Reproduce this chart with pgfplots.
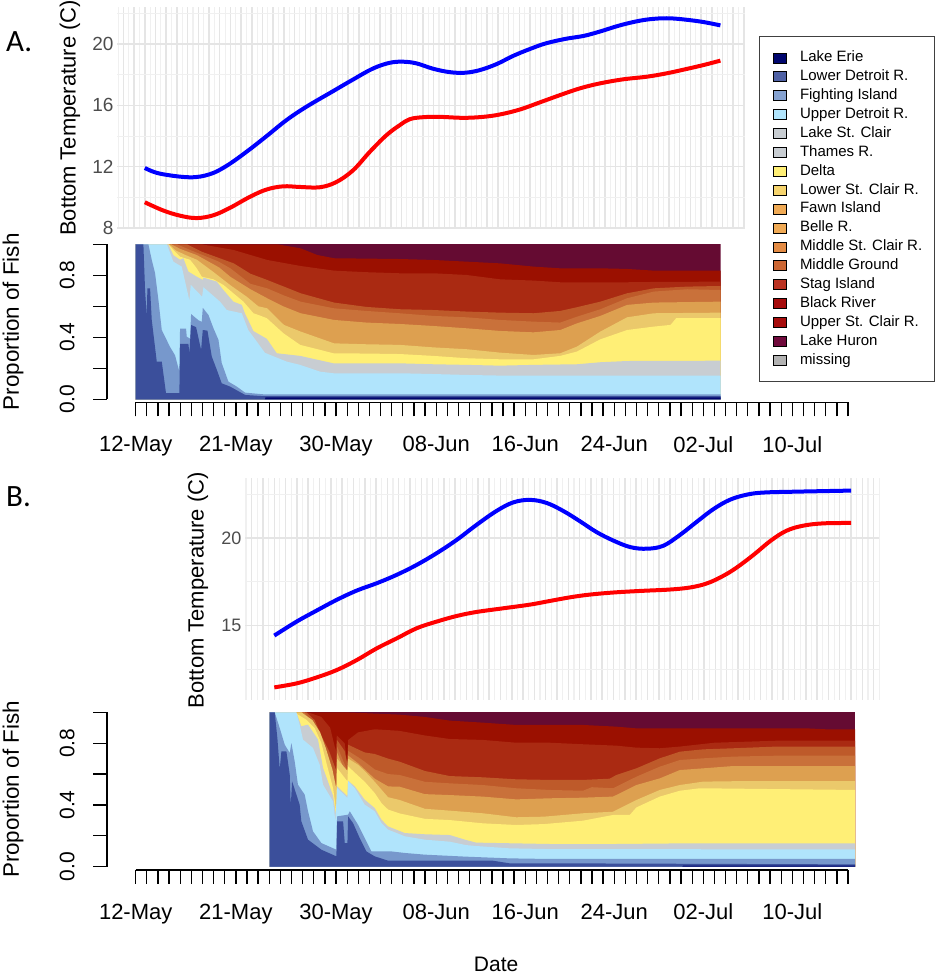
\documentclass[border=0pt]{standalone}
\usepackage{fontspec}
\usepackage{pgfplots}
\pgfplotsset{compat=1.18}
\setmainfont{Liberation Sans}
\newfontfamily\letterfont{Carlito}

% layer colours, bottom to top
\definecolor{cErie}{HTML}{00066E}
\definecolor{cLD}{HTML}{3B4F9B}
\definecolor{cFI}{HTML}{7798CC}
\definecolor{cUD}{HTML}{B0E4FC}
\definecolor{cLS}{HTML}{C8CDD2}
\definecolor{cDelta}{HTML}{FFEF76}
\definecolor{cLSC}{HTML}{EBC96B}
\definecolor{cFawn}{HTML}{DDA050}
\definecolor{cMSC}{HTML}{C9713A}
\definecolor{cMG}{HTML}{BE5A2A}
\definecolor{cStag}{HTML}{AA2A12}
\definecolor{cUSC}{HTML}{9B1000}
\definecolor{cHuron}{HTML}{650B32}
% the legend's swatches are a little brighter
\definecolor{lgLSC}{HTML}{F6D46E}
\definecolor{lgFawn}{HTML}{F0AA55}
\definecolor{lgMSC}{HTML}{E38B44}
\definecolor{lgMG}{HTML}{CC6633}
\definecolor{lgStag}{HTML}{BB3322}
\definecolor{lgUSC}{HTML}{A60C0C}
\definecolor{lgHuron}{HTML}{700A3C}
\definecolor{gridmaj}{gray}{0.90}
\definecolor{gridmin}{gray}{0.94}
\definecolor{ticktxt}{gray}{0.3}

\pgfplotsset{
  temp/.style={
    scale only axis, axis line style={draw=none}, tick style={draw=none},
    xtick={-2,...,56}, minor xtick={-2.5,-1.5,...,55.5},
    xticklabels={},
    grid=both,
    major grid style={gridmaj,line width=1.5pt},
    minor grid style={gridmin,line width=1.1pt},
    ylabel style={font=\fontsize{22}{24}\selectfont,anchor=center},
    /pgf/number format/assume math mode=true,
    yticklabel style={text=ticktxt,font=\fontsize{19}{21}\selectfont},
    clip=false},
  templine/.style={line width=4pt,smooth,tension=0.6,#1,forget plot},
  stack/.style={scale only axis, hide axis, ymin=0, ymax=1},
  yrule/.style={
    scale only axis, width=1pt, height=155pt, xmin=0, xmax=1, ymin=0, ymax=1,
    hide x axis, axis y line*=left, tick align=outside, major tick length=14pt,
    y axis line style={line width=1.3pt}, ytick style={black,line width=1.3pt},
    ytick={0,0.2,...,1}, yticklabels={0.0,,0.4,,0.8,},
    yticklabel style={rotate=90,anchor=south,font=\fontsize{21}{23}\selectfont,yshift=15pt},
    ylabel={Proportion of Fish},
    ylabel style={at={(axis description cs:0,0.5)},anchor=center,yshift=94pt,font=\fontsize{22.4}{24}\selectfont}},
  xrule/.style={
    scale only axis, width=712.3pt, height=1pt, xmin=0, xmax=64, ymin=0, ymax=1,
    hide y axis, axis x line*=bottom, tick align=outside,
    major tick length=14pt, minor tick length=14pt,
    x axis line style={line width=1.3pt}, xtick style={black,line width=1.3pt},
    xtick={0,9,18,27,35,43,51,59}, minor xtick={0,...,64},
    xticklabels={12-May,21-May,30-May,08-Jun,16-Jun,24-Jun,02-Jul,10-Jul},
    xticklabel style={font=\fontsize{22}{24}\selectfont,yshift=-16.5pt}},
  swatch/.style={legend image code/.code={
    \draw[fill=#1,draw=black,line width=1pt] (2.5pt,-5pt) rectangle (15.5pt,5pt);
    \path (0pt,0pt) (27pt,0pt);}}
}

\begin{document}
\begin{tikzpicture}
\path[use as bounding box] (0,0) rectangle (935pt,975pt);

% ---- A, temperature + legend
\begin{axis}[temp, at={(117pt,746.5pt)}, anchor=south west, width=628pt, height=221.2pt,
  xmin=-2.6, xmax=56.1, ymin=7.97, ymax=22.4,
  ytick={8,12,16,20}, minor ytick={10,14,18,22},
  ylabel={Bottom Temperature (C)},
  ylabel style={at={(axis description cs:-0.0748,0.5)}},
  legend cell align=left,
  legend style={at={(1.0223,0.87)},anchor=north west,draw=black!75,line width=1pt,
    font=\fontsize{15}{17}\selectfont,row sep=0pt,
    inner xsep=10.5pt,inner ysep=12pt,
    nodes={text height=11pt,text depth=3.5pt,inner ysep=2.2pt}}]
\addlegendimage{swatch=cErie}\addlegendentry{Lake Erie}
\addlegendimage{swatch={cLD!90!white}}\addlegendentry{Lower Detroit R.}
\addlegendimage{swatch={cFI!90!white}}\addlegendentry{Fighting Island}
\addlegendimage{swatch={cUD}}\addlegendentry{Upper Detroit R.}
\addlegendimage{swatch={cLS}}\addlegendentry{Lake St. Clair}
\addlegendimage{swatch={cLS}}\addlegendentry{Thames R.}
\addlegendimage{swatch={cDelta}}\addlegendentry{Delta}
\addlegendimage{swatch={lgLSC}}\addlegendentry{Lower St. Clair R.}
\addlegendimage{swatch={lgFawn}}\addlegendentry{Fawn Island}
\addlegendimage{swatch={lgFawn}}\addlegendentry{Belle R.}
\addlegendimage{swatch={lgMSC}}\addlegendentry{Middle St. Clair R.}
\addlegendimage{swatch={lgMG}}\addlegendentry{Middle Ground}
\addlegendimage{swatch={lgStag}}\addlegendentry{Stag Island}
\addlegendimage{swatch={lgUSC}}\addlegendentry{Black River}
\addlegendimage{swatch={lgUSC}}\addlegendentry{Upper St. Clair R.}
\addlegendimage{swatch={lgHuron}}\addlegendentry{Lake Huron}
\addlegendimage{swatch={gray!60}}\addlegendentry{missing}
\addplot[templine=blue] coordinates {(0,11.92)(1.4,11.55)(4.2,11.31)(6.07,11.51)(7.63,12.05)(9.5,12.97)(11.37,13.99)(13.24,15.04)(15.1,15.91)(17.6,16.93)(19.47,17.69)(21.34,18.41)(22.9,18.78)(24.15,18.85)(25.4,18.74)(26.95,18.39)(28.5,18.17)(29.9,18.13)(31.3,18.3)(32.9,18.7)(34.4,19.22)(36,19.68)(37.5,20.05)(39.4,20.35)(41,20.53)(42.5,20.81)(44.4,21.22)(46.3,21.53)(47.8,21.66)(49.1,21.68)(50.6,21.59)(52.2,21.44)(53.8,21.22)};
\addplot[templine=red] coordinates {(0,9.68)(1.7,9.15)(3.27,8.81)(4.83,8.65)(6.39,8.83)(7.94,9.31)(9.81,10.03)(11.37,10.51)(12.93,10.72)(14.49,10.68)(16.36,10.66)(17.9,11.0)(19.47,11.77)(21.03,12.97)(22.59,14.06)(23.83,14.71)(24.77,15.1)(26,15.23)(27.6,15.25)(29.75,15.19)(31.6,15.25)(33.2,15.41)(35.05,15.73)(36.9,16.19)(38.8,16.67)(40.66,17.11)(42.5,17.43)(44.7,17.7)(46.9,17.87)(48.76,18.09)(50.6,18.37)(52.2,18.63)(53.8,18.92)};
\end{axis}

% ---- A, stacked proportions (cumulative tops, painted from the top layer down)
\begin{axis}[stack, at={(135.7pt,575.7pt)}, anchor=south west, width=585pt, height=155pt, xmin=0, xmax=52.5]
\addplot[fill=cHuron,draw=none] coordinates {(0,1)(52.5,1)} \closedcycle;
\addplot[fill=cUSC,draw=none] coordinates {(0,1)(12.7,1)(14.8,.974)(16.3,.931)(17.8,.91)(23.7,.905)(26.7,.899)(29.7,.888)(32.7,.877)(35.7,.856)(38.1,.845)(41.7,.845)(44.1,.841)(46.5,.83)(52.5,.83)} \closedcycle;
\addplot[fill=cStag,draw=none] coordinates {(0,1)(5.9,1)(8.8,.963)(11.8,.899)(14.8,.86)(17.8,.83)(20.7,.82)(23.7,.813)(26.7,.813)(29.7,.802)(32.7,.774)(35.7,.766)(38.1,.755)(44.1,.755)(46.5,.757)(52.5,.759)} \closedcycle;
\addplot[fill=cMG,draw=none] coordinates {(0,1)(4.6,1)(5.9,.953)(8.8,.877)(10.3,.81)(11.8,.77)(13.3,.727)(14.8,.684)(17.8,.624)(20.7,.596)(23.7,.581)(26.7,.576)(29.7,.566)(32.7,.559)(35.7,.555)(38.1,.57)(39.6,.594)(41.7,.63)(44.1,.684)(46.5,.716)(49.5,.727)(52.5,.731)} \closedcycle;
\addplot[fill=cMSC,draw=none] coordinates {(0,1)(3.7,1)(5,.96)(7.4,.89)(8.5,.845)(10.3,.745)(11.8,.716)(13.3,.67)(14.8,.63)(17.8,.587)(20.7,.57)(23.7,.555)(26.7,.538)(29.7,.529)(32.7,.512)(35.7,.501)(38.1,.495)(39.6,.533)(41.7,.581)(44.1,.652)(46.5,.695)(49.5,.71)(52.5,.705)} \closedcycle;
\addplot[fill=cFawn,draw=none] coordinates {(0,1)(3.2,1)(4,.97)(5.5,.93)(7.5,.85)(8.5,.79)(10.3,.71)(11.8,.652)(13.3,.598)(14.8,.555)(17.8,.512)(20.7,.495)(23.7,.486)(26.7,.473)(29.7,.458)(32.7,.441)(35.7,.432)(38.1,.447)(39.6,.49)(41.7,.538)(44.1,.609)(46.5,.624)(52.5,.63)} \closedcycle;
\addplot[fill=cLSC,draw=none] coordinates {(0,1)(3,1)(3.6,.96)(4.5,.93)(5.5,.9)(7,.82)(8.5,.736)(10,.66)(11,.6)(11.8,.587)(13.3,.48)(14.8,.437)(17.8,.361)(20.7,.355)(23.7,.351)(26.7,.335)(29.7,.323)(32.7,.301)(35.7,.286)(38.1,.297)(39.6,.34)(41.7,.437)(44.1,.529)(46.5,.555)(52.5,.559)} \closedcycle;
\addplot[fill=cDelta,draw=none] coordinates {(0,1)(2.93,1)(3.38,.963)(3.98,.92)(4.88,.9)(5.48,.845)(5.93,.791)(6.98,.774)(7.87,.738)(8.77,.684)(9.67,.63)(10.57,.555)(11.17,.54)(11.77,.523)(13.26,.426)(14.76,.351)(17.75,.297)(20.75,.295)(23.7,.292)(26.7,.28)(29.7,.265)(32.7,.258)(35.7,.258)(38.1,.28)(39.6,.308)(41.7,.387)(44.1,.447)(46.5,.469)(48,.48)(48.5,.523)(52.5,.523)} \closedcycle;
\addplot[fill=cLS,draw=none] coordinates {(0,1)(2.93,1)(3.38,.93)(3.98,.9)(4.28,.91)(4.73,.824)(5.48,.791)(6.02,.77)(6.08,.785)(7.28,.759)(7.87,.705)(8.77,.63)(9.52,.609)(9.8,.555)(10.57,.44)(11.77,.39)(12.66,.297)(14.76,.28)(17.75,.232)(23.7,.232)(26.7,.226)(29.7,.222)(32.7,.217)(35.7,.222)(39.6,.226)(41.7,.239)(44.1,.247)(52.5,.249)} \closedcycle;
\addplot[fill=cUD,draw=none] coordinates {(0,1)(2.8,1)(3.38,.888)(4.13,.856)(4.82,.637)(4.94,.738)(5.96,.662)(6.08,.723)(7.57,.63)(8.17,.576)(9.52,.555)(10.1,.447)(10.87,.372)(11.6,.3)(12.07,.286)(13.56,.243)(14.76,.222)(16.56,.178)(17.75,.168)(23.7,.168)(26.7,.163)(29.7,.157)(32.7,.153)(52.5,.153)} \closedcycle;
\addplot[fill=cFI,draw=none] coordinates {(0,1)(1.14,1)(1.44,.9)(1.74,.813)(2.04,.64)(2.34,.447)(2.63,.404)(3.08,.338)(3.53,.284)(3.92,.178)(3.98,.456)(4.52,.456)(4.58,.404)(4.88,.391)(4.97,.55)(5.63,.51)(5.93,.5)(6.02,.59)(6.53,.544)(6.98,.458)(7.43,.383)(7.72,.234)(8.32,.114)(9.07,.082)(9.82,.043)(11.5,.032)(52.5,.032)} \closedcycle;
\addplot[fill=cLD,draw=none] coordinates {(0,1)(.69,1)(.84,.705)(.99,.533)(1.05,.716)(1.29,.716)(1.44,.512)(1.89,.243)(2.34,.243)(2.72,.039)(3.92,.039)(3.98,.357)(4.73,.357)(4.82,.297)(4.97,.48)(5.42,.465)(5.87,.318)(6.02,.447)(6.44,.443)(6.83,.275)(7.28,.19)(7.72,.103)(8.47,.082)(9.82,.028)(11.5,.02)(52.5,.02)} \closedcycle;
\addplot[fill=cErie,draw=none] coordinates {(0,0)(11.6,0)(11.65,.012)(52.5,.012)} \closedcycle;
\end{axis}
\begin{axis}[yrule, at={(107pt,575.7pt)}, anchor=south west]
\end{axis}
\begin{axis}[xrule, at={(135.7pt,572.7pt)}, anchor=south west]
\end{axis}

% ---- B, temperature
\begin{axis}[temp, at={(245pt,275pt)}, anchor=south west, width=634.3pt, height=222pt,
  xmin=-2.59, xmax=53.5, ymin=10.75, ymax=23.43,
  xtick={-2,...,53}, minor xtick={-2.5,-1.5,...,53.5},
  ytick={15,20}, minor ytick={12.5,17.5,22.5},
  yticklabel style={font=\fontsize{18}{20}\selectfont},
  ylabel={Bottom Temperature (C)},
  ylabel style={at={(axis description cs:-0.074,0.495)}}]
\addplot[templine=blue] coordinates {(0,14.43)(1.98,15.23)(3.75,15.86)(5.52,16.47)(7.29,17.0)(9.06,17.42)(10.83,17.9)(12.6,18.47)(14.37,19.14)(16.14,19.9)(17.9,20.76)(19.68,21.56)(21.15,22.04)(22.63,22.18)(24.1,22.0)(25.6,21.53)(27.05,20.95)(28.5,20.34)(30,19.85)(31.5,19.48)(32.95,19.39)(34.4,19.56)(35.9,20.19)(37.4,20.95)(38.85,21.66)(40.3,22.19)(41.8,22.48)(43.3,22.6)(46.2,22.65)(51,22.71)};
\addplot[templine=red] coordinates {(0,11.47)(1.98,11.7)(3.75,12.04)(5.52,12.46)(7.29,13.03)(9.06,13.7)(10.83,14.27)(12.6,14.85)(14.37,15.23)(16.14,15.55)(17.9,15.78)(20.27,15.99)(22.63,16.2)(24.4,16.41)(26.2,16.62)(27.9,16.77)(30,16.89)(32.4,16.98)(35,17.06)(36.8,17.18)(38.3,17.42)(39.7,17.84)(40.9,18.32)(42.4,19.05)(43.9,19.85)(45.3,20.42)(46.8,20.71)(48.6,20.84)(51,20.86)};
\end{axis}

% ---- B, stacked proportions
\begin{axis}[stack, at={(269.7pt,108.3pt)}, anchor=south west, width=585.3pt, height=154.4pt, xmin=12.07, xmax=64.63]
\addplot[fill=cHuron,draw=none] coordinates {(12.07,1)(64.63,1)} \closedcycle;
\addplot[fill=cUSC,draw=none] coordinates {(12.07,1)(18.8,1)(23.7,.985)(26,.97)(28.24,.946)(31.2,.933)(34.2,.918)(40.2,.918)(43.2,.907)(45,.896)(60.3,.896)(62,.89)(64.63,.89)} \closedcycle;
\addplot[fill=cStag,draw=none] coordinates {(12.07,1)(15.5,1)(16.7,.97)(17.5,.9)(18,.75)(18.1,.85)(18.8,.8)(19.05,.66)(19.11,.82)(20,.87)(21.5,.89)(23.7,.88)(26,.85)(28.24,.827)(31.2,.821)(34.2,.803)(37.2,.803)(40.2,.793)(43.2,.784)(45,.771)(47.1,.767)(48.9,.778)(52,.803)(57.6,.816)(64.63,.816)} \closedcycle;
\addplot[fill=cMG,draw=none] coordinates {(12.07,1)(15.36,1)(16.1,.95)(16.7,.85)(17.4,.75)(18.06,.62)(18.12,.82)(18.8,.75)(19.05,.66)(19.11,.79)(20,.76)(20.6,.74)(21.5,.73)(22.7,.7)(23.74,.68)(26,.62)(28.24,.587)(31.2,.579)(34.2,.566)(37.2,.562)(40.2,.562)(42.6,.57)(43.2,.594)(45,.637)(47.1,.702)(48.9,.745)(51,.76)(53.7,.767)(57.6,.778)(64.63,.778)} \closedcycle;
\addplot[fill=cMSC,draw=none] coordinates {(12.07,1)(15.2,1)(15.9,.93)(16.6,.83)(17.1,.72)(17.7,.62)(18.06,.52)(18.12,.78)(19.05,.62)(19.11,.75)(20,.71)(20.6,.68)(21.5,.63)(22.7,.6)(23.74,.594)(26,.55)(28.24,.54)(31.2,.529)(34.2,.508)(37.2,.497)(40.2,.492)(41,.515)(42.9,.508)(45,.583)(47.1,.648)(48.9,.691)(51,.702)(53.7,.713)(57.6,.719)(64.63,.719)} \closedcycle;
\addplot[fill=cFawn,draw=none] coordinates {(12.07,1)(15,1)(15.8,.91)(16.5,.79)(17,.7)(17.6,.6)(18.06,.5)(18.12,.74)(19.05,.58)(19.11,.72)(20,.67)(20.6,.63)(21.5,.57)(22.7,.52)(23.74,.518)(26,.47)(28.24,.464)(31.2,.454)(34.2,.436)(37.2,.443)(40.2,.447)(42.9,.454)(45,.529)(47.1,.572)(48.9,.626)(51,.637)(53.7,.652)(64.63,.652)} \closedcycle;
\addplot[fill=cLSC,draw=none] coordinates {(12.07,1)(14.9,1)(15.9,.95)(16.6,.87)(17.1,.77)(17.7,.63)(18.06,.5)(18.12,.7)(19.05,.62)(19.11,.7)(20,.66)(20.6,.62)(21.5,.55)(22.1,.5)(22.7,.45)(23.74,.432)(26,.375)(28.24,.363)(31.2,.346)(34.2,.32)(36.7,.324)(40.2,.346)(42.9,.356)(45,.432)(47.1,.497)(48.9,.529)(51,.551)(55.2,.555)(64.63,.555)} \closedcycle;
\addplot[fill=cDelta,draw=none] coordinates {(12.07,1)(14.4,1)(14.61,.985)(15.36,.952)(16.11,.898)(16.71,.801)(17.16,.672)(17.76,.51)(18.06,.348)(18.12,.639)(19.05,.553)(19.11,.65)(19.7,.61)(20.6,.55)(21.5,.477)(22.1,.413)(22.7,.37)(23.74,.345)(26,.31)(28.24,.302)(31.2,.281)(34.2,.27)(36.7,.276)(40.2,.298)(42.9,.335)(44.4,.335)(45,.384)(47.1,.454)(48.9,.492)(50.7,.508)(64.63,.497)} \closedcycle;
\addplot[fill=cLS,draw=none] coordinates {(12.07,1)(14.46,1)(14.91,.91)(15.51,.92)(16.41,.823)(16.86,.64)(17.76,.46)(18,.35)(18.06,.32)(18.12,.521)(19.05,.456)(19.11,.557)(19.7,.521)(20.6,.434)(21.5,.38)(22.1,.305)(22.7,.261)(24.2,.218)(26,.21)(28.24,.205)(29.7,.173)(30.6,.156)(34.2,.151)(37.2,.147)(43.2,.147)(49,.151)(64.63,.151)} \closedcycle;
\addplot[fill=cUD,draw=none] coordinates {(12.07,1)(14.46,1)(14.76,.92)(15.06,.823)(15.96,.769)(16.56,.661)(16.86,.531)(17.76,.423)(17.97,.294)(18.12,.51)(19.05,.445)(19.11,.553)(19.7,.51)(20.6,.402)(21.5,.359)(22.1,.283)(22.7,.24)(24.2,.197)(26,.175)(28.24,.162)(29.7,.14)(30.6,.134)(33.6,.119)(37.2,.114)(64.63,.112)} \closedcycle;
\addplot[fill=cFI,draw=none] coordinates {(12.07,1)(12.52,1)(12.97,.898)(13.42,.79)(13.87,.737)(14.02,.801)(14.31,.683)(14.61,.531)(15.21,.467)(15.51,.359)(15.96,.229)(16.71,.153)(18.06,.11)(18.12,.326)(19.11,.337)(19.26,.359)(20,.272)(20.6,.186)(21.2,.099)(23,.099)(24.2,.089)(26,.078)(29.7,.065)(33.6,.054)(37.2,.05)(64.63,.05)} \closedcycle;
\addplot[fill=cLD,draw=none] coordinates {(12.07,1)(12.52,1)(12.76,.832)(12.97,.631)(13.12,.747)(13.57,.747)(13.87,.596)(13.96,.391)(14.08,.553)(14.76,.402)(14.91,.294)(15.51,.175)(16.71,.11)(18.06,.067)(18.12,.294)(18.66,.294)(18.81,.153)(19.05,.153)(19.11,.326)(19.55,.283)(20.15,.186)(20.75,.099)(21.5,.067)(22.7,.039)(32,.04)(33.6,.022)(37.2,.022)(64.63,.015)} \closedcycle;
\addplot[fill=cErie,draw=none] coordinates {(12.07,0)(49.1,0)(49.2,.007)(64.63,.007)} \closedcycle;
\end{axis}
\begin{axis}[yrule, at={(107pt,108.3pt)}, anchor=south west, height=154.4pt]
\end{axis}
\begin{axis}[xrule, at={(135.7pt,105pt)}, anchor=south west,
  xlabel={Date},
  xlabel style={at={(axis description cs:0.506,0)},anchor=base,yshift=-101pt,font=\fontsize{21}{23}\selectfont}]
\end{axis}

\node[anchor=base west,font=\letterfont\fontsize{31}{33}\selectfont,inner sep=0pt] at (6pt,923pt) {A.};
\node[anchor=base west,font=\letterfont\fontsize{31}{33}\selectfont,inner sep=0pt] at (6pt,468pt) {B.};
\end{tikzpicture}
\end{document}
